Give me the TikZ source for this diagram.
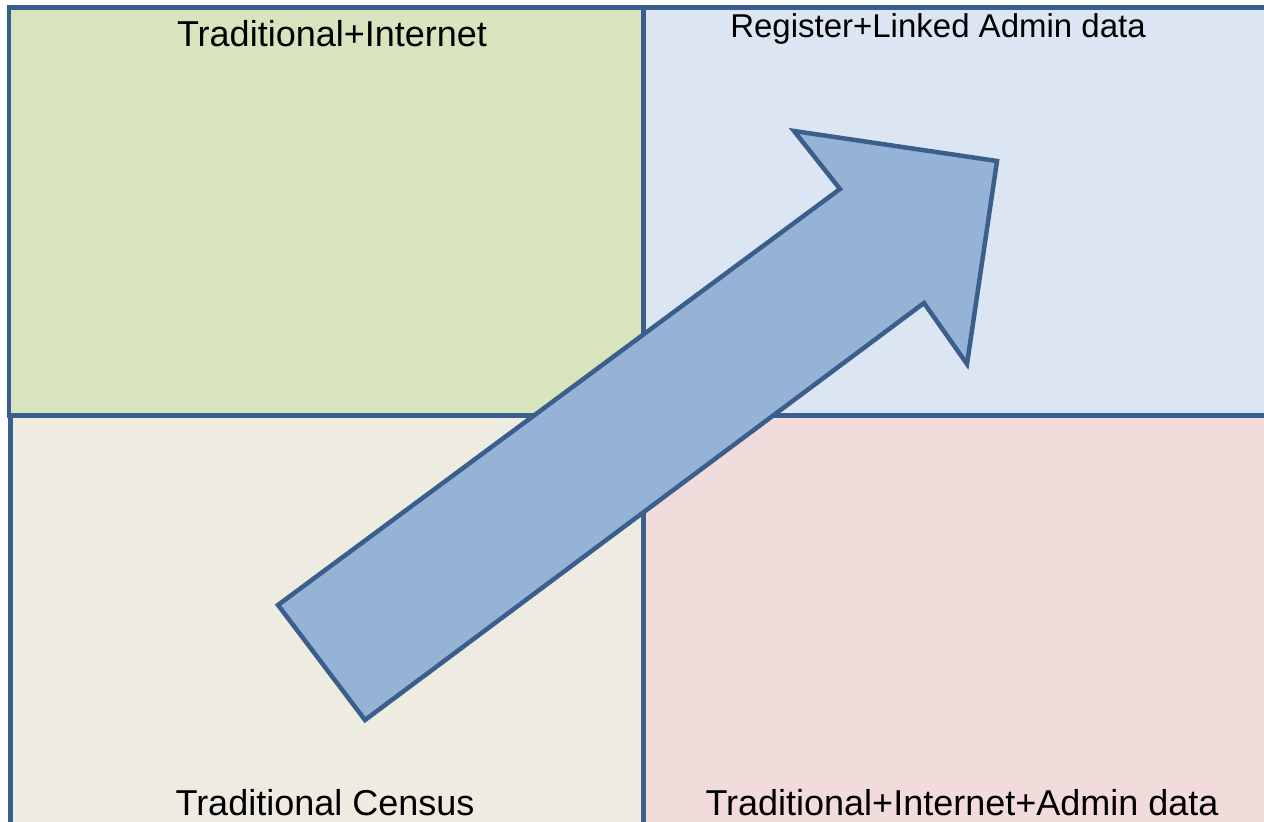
\documentclass[tikz,border=0pt]{standalone}
\usepackage{fontspec}
\setmainfont{Liberation Sans}
\definecolor{bordc}{HTML}{3A5F8D}
\definecolor{greenf}{HTML}{D7E4BD}
\definecolor{bluef}{HTML}{DCE6F2}
\definecolor{beigef}{HTML}{EEECE1}
\definecolor{pinkf}{HTML}{F2DCDB}
\definecolor{arrowf}{HTML}{95B3D7}
\tikzset{
  quad/.style={draw=bordc, line width=4.5pt},
  lbl/.style={anchor=base, inner sep=0pt, font=\fontsize{36}{40}\selectfont},
  lblsmall/.style={anchor=base, inner sep=0pt, font=\fontsize{33}{36}\selectfont},
  bigarrow/.style={draw=bordc, fill=arrowf, line width=4.5pt, line join=miter}
}
\begin{document}
\begin{tikzpicture}[x=1pt,y=-1pt]
\useasboundingbox (0,0) rectangle (1264,822);
\begin{scope}
\clip (0,0) rectangle (1264,822);
\fill[white] (0,0) rectangle (1264,822);
\path[quad, fill=beigef] (10.5,415.5) rectangle (643.5,830);
\path[quad, fill=pinkf] (643.5,415.5) rectangle (1272,830);
\path[quad, fill=greenf] (9,7.5) rectangle (643.5,415.5);
\path[quad, fill=bluef] (643.5,7.5) rectangle (1272,415.5);
\end{scope}
\node[lbl] (tl) at (332,46.5) {Traditional+Internet};
\node[lblsmall] (tr) at (938,37) {Register+Linked Admin data};
\node[lbl] (bl) at (325,815) {Traditional Census};
\node[lbl] (br) at (962,815) {Traditional+Internet+Admin data};
\path[bigarrow] (278,605) -- (840,189) -- (794,131) -- (997,161) -- (967,364) -- (924,303) -- (365,720) -- cycle;
\end{tikzpicture}
\end{document}
